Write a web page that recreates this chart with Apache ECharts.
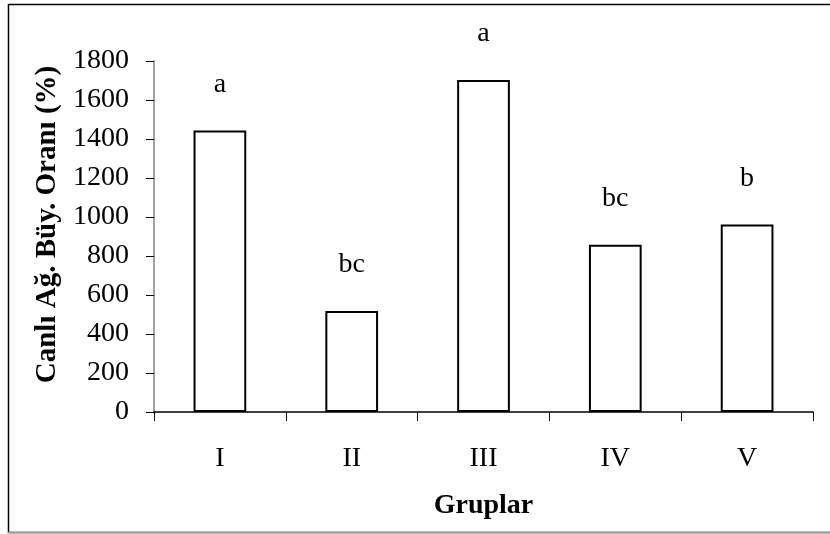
<!DOCTYPE html>
<html>
<head>
<meta charset="utf-8">
<script src="https://cdn.jsdelivr.net/npm/echarts@6/dist/echarts.min.js"></script>
<style>html,body{margin:0;padding:0;background:#fff;}#c{width:830px;height:534px;}</style>
</head>
<body>
<div id="c"></div>
<script>
const categories = ['I', 'II', 'III', 'IV', 'V'];
const values = [1444, 518, 1703, 858, 962];
const letters = ['a', 'bc', 'a', 'bc', 'b'];
const yTicks = { min: 0, max: 1800, interval: 200 };

const chart = echarts.init(document.getElementById('c'), null, { renderer: 'canvas' });
const font = '"Liberation Serif", "Times New Roman", serif';
chart.setOption({
  animation: false,
  backgroundColor: '#fff',
  graphic: [
    { type: 'rect', shape: { x: 8.5, y: 4.5, width: 840, height: 528 }, style: { fill: 'none', stroke: '#000', lineWidth: 1.5 }, silent: true },
    { type: 'line', shape: { x1: 8, y1: 532.5, x2: 830, y2: 532.5 }, style: { stroke: '#a0a0a0', lineWidth: 1.5 }, silent: true }
  ],
  grid: { left: 154, right: 17, top: 61, bottom: 122 },
  xAxis: {
    type: 'category',
    data: categories,
    name: 'Gruplar',
    nameLocation: 'middle',
    nameGap: 80,
    nameTextStyle: { fontFamily: font, fontSize: 28, fontWeight: 'bold', color: '#000' },
    axisLine: { lineStyle: { color: '#000', width: 1.5 } },
    axisTick: { show: true, length: 9, lineStyle: { color: '#000', width: 1 } },
    axisLabel: { fontFamily: font, fontSize: 28, color: '#000', margin: 33 },
    splitLine: { show: false }
  },
  yAxis: {
    type: 'value',
    min: yTicks.min, max: yTicks.max, interval: yTicks.interval,
    name: 'Canlı Ağ. Büy. Oranı (%)',
    nameLocation: 'middle',
    nameGap: 91,
    nameTextStyle: { fontFamily: font, fontSize: 29, fontWeight: 'bold', color: '#000', padding: [0, 0, 0, 24] },
    axisLine: { show: true, lineStyle: { color: '#808080', width: 1.5 } },
    axisTick: { show: true, length: 8, lineStyle: { color: '#000', width: 1 } },
    axisLabel: { fontFamily: font, fontSize: 28, color: '#000', margin: 25, formatter: v => String(v) },
    splitLine: { show: false }
  },
  series: [{
    type: 'bar',
    data: values,
    barWidth: '40%',
    itemStyle: { color: '#fff', borderColor: '#000', borderWidth: 2 },
    label: {
      show: true,
      position: 'top',
      distance: 32,
      fontFamily: font,
      fontSize: 28,
      color: '#000',
      formatter: p => letters[p.dataIndex]
    }
  }]
});
</script>
</body>
</html>
